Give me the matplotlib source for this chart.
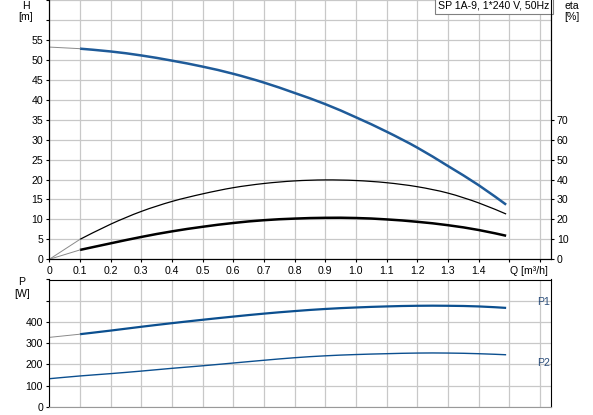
import numpy as np
import matplotlib
matplotlib.use('Agg')
import matplotlib.pyplot as plt
from matplotlib.path import Path
from matplotlib.patches import PathPatch

plt.rcParams['font.family'] = ['Liberation Sans', 'DejaVu Sans']
plt.rcParams['font.size'] = 7.6

# Förderstrom Q [m³/h]
q = [0.0, 0.1, 0.2, 0.3, 0.4, 0.5, 0.6, 0.7, 0.8, 0.9, 1.0, 1.1, 1.2, 1.3, 1.4, 1.49]
# Förderhöhe H [m]
head = [53.2, 52.8, 52.1, 51.1, 49.8, 48.3, 46.5, 44.3, 41.7, 38.9, 35.6, 32.0, 28.0, 23.4, 18.6, 13.7]
# Wirkungsgrade [%]
eta_pump = [0.0, 10.0, 17.6, 24.0, 29.0, 32.8, 35.9, 38.0, 39.3, 39.8, 39.5, 38.4, 36.4, 33.2, 28.3, 22.7]
eta_total = [0.0, 4.7, 8.0, 11.2, 14.0, 16.3, 18.2, 19.6, 20.4, 20.8, 20.7, 20.0, 18.8, 17.1, 14.7, 11.8]
# Leistung [W]
p1 = [327, 342, 359, 377, 394, 410, 425, 439, 451, 461, 468, 473, 476, 476, 473, 466]
p2 = [132, 145, 156, 168, 181, 193, 206, 219, 231, 240, 246, 250, 253, 253, 250, 245]

x_ticks = np.round(np.arange(0, 1.61, 0.1), 1)
x_labels = [f'{v:.1f}' if v <= 1.4 else '' for v in x_ticks]
x_labels[0] = '0'

W, H = 593, 415
fig = plt.figure(figsize=(W / 100, H / 100), dpi=100)

def fx(px):
    return px / W

def fy(py):
    return 1 - py / H

def smooth_line(axis, xs, ys, **kw):
    # Kurve als glatter Bezier-Pfad (Catmull-Rom) durch die Messpunkte
    xs = np.asarray(xs, float)
    ys = np.asarray(ys, float)
    verts = [(xs[0], ys[0])]
    codes = [Path.MOVETO]
    n = len(xs)
    for i in range(n - 1):
        x0, y0 = (xs[i - 1], ys[i - 1]) if i > 0 else (xs[i], ys[i])
        x3, y3 = (xs[i + 2], ys[i + 2]) if i + 2 < n else (xs[i + 1], ys[i + 1])
        c1 = (xs[i] + (xs[i + 1] - x0) / 6, ys[i] + (ys[i + 1] - y0) / 6)
        c2 = (xs[i + 1] - (x3 - xs[i]) / 6, ys[i + 1] - (y3 - ys[i]) / 6)
        verts += [c1, c2, (xs[i + 1], ys[i + 1])]
        codes += [Path.CURVE4] * 3
    axis.add_patch(PathPatch(Path(verts, codes), fill=False, **kw))

left, right = 49.3, 550.5
grid_col = '#c8c8c8'
blue = '#1f5b99'
pblue = '#0b4f8f'
thin_col = '#8a8a8a'

ax = fig.add_axes([fx(left), fy(259.3), fx(right - left), 259.3 / H])
ax.set_xlim(0, (right - left) / 306.6)
ax.set_ylim(0, 65)
ax.set_xticks(x_ticks)
ax.set_xticklabels(x_labels)
ax.set_yticks(np.arange(0, 66, 5))
ax.set_yticklabels([str(v) if v <= 55 else '' for v in range(0, 66, 5)])
ax.grid(True, color=grid_col, lw=0.9)
ax.set_axisbelow(True)
ax.spines['top'].set_visible(False)
ax.tick_params(direction='out', length=2.5, width=0.8, pad=2)

# H-Kurve
ax.plot(q[:2], head[:2], color=thin_col, lw=0.7)
smooth_line(ax, q[1:], head[1:], color=blue, lw=1.8, capstyle='butt')

ax2 = ax.twinx()
ax2.set_ylim(0, 130)
ax2.set_yticks(np.arange(0, 71, 10))
ax2.tick_params(direction='out', length=2.5, width=0.8, pad=2)
ax2.spines['top'].set_visible(False)
ax2.plot(q[:2], eta_pump[:2], color=thin_col, lw=0.7)
smooth_line(ax2, q[1:], eta_pump[1:], color='black', lw=0.9)
ax2.plot(q[:2], eta_total[:2], color=thin_col, lw=0.7)
smooth_line(ax2, q[1:], eta_total[1:], color='black', lw=1.8, capstyle='butt')

ax.annotate('Q [m³/h]', xy=(1.565, 0), xycoords=('data', 'axes fraction'),
            xytext=(0, -4.5), textcoords='offset points', ha='center', va='top')

ax.text(0.9985, 0.997, 'SP 1A-9, 1*240 V, 50Hz', transform=ax.transAxes,
        ha='right', va='top', zorder=10,
        bbox=dict(boxstyle='square,pad=0.35', fc='white', ec='#808080', lw=0.8))

fig.text(fx(26), fy(6), 'H', ha='center', va='center')
fig.text(fx(26), fy(17), '[m]', ha='center', va='center')
fig.text(fx(572), fy(6), 'eta', ha='center', va='center')
fig.text(fx(572), fy(17), '[%]', ha='center', va='center')

# Leistungsdiagramm
axp = fig.add_axes([fx(left), fy(406.7), fx(right - left), 127.2 / H])
axp.set_xlim(ax.get_xlim())
axp.set_ylim(0, 600)
axp.set_xticks(x_ticks)
axp.set_xticklabels([])
axp.set_yticks(np.arange(0, 601, 100))
axp.set_yticklabels([str(v) if v <= 400 else '' for v in range(0, 601, 100)])
axp.grid(True, color=grid_col, lw=0.9)
axp.set_axisbelow(True)
axp.spines['bottom'].set_color('#999999')
axp.tick_params(direction='out', length=2.5, width=0.8, pad=2)
axp.tick_params(axis='x', length=0)

axp.plot(q[:2], p1[:2], color=thin_col, lw=0.7)
smooth_line(axp, q[1:], p1[1:], color=pblue, lw=1.6, capstyle='butt')
smooth_line(axp, q, p2, color=pblue, lw=1.0)

axp.text(1.632, 495, 'P1', ha='right', va='center', color='#2a4d7a')
axp.text(1.632, 207, 'P2', ha='right', va='center', color='#2a4d7a')

fig.text(fx(22), fy(282), 'P', ha='center', va='center')
fig.text(fx(22), fy(294), '[W]', ha='center', va='center')

fig.savefig('out.png', dpi=100)
